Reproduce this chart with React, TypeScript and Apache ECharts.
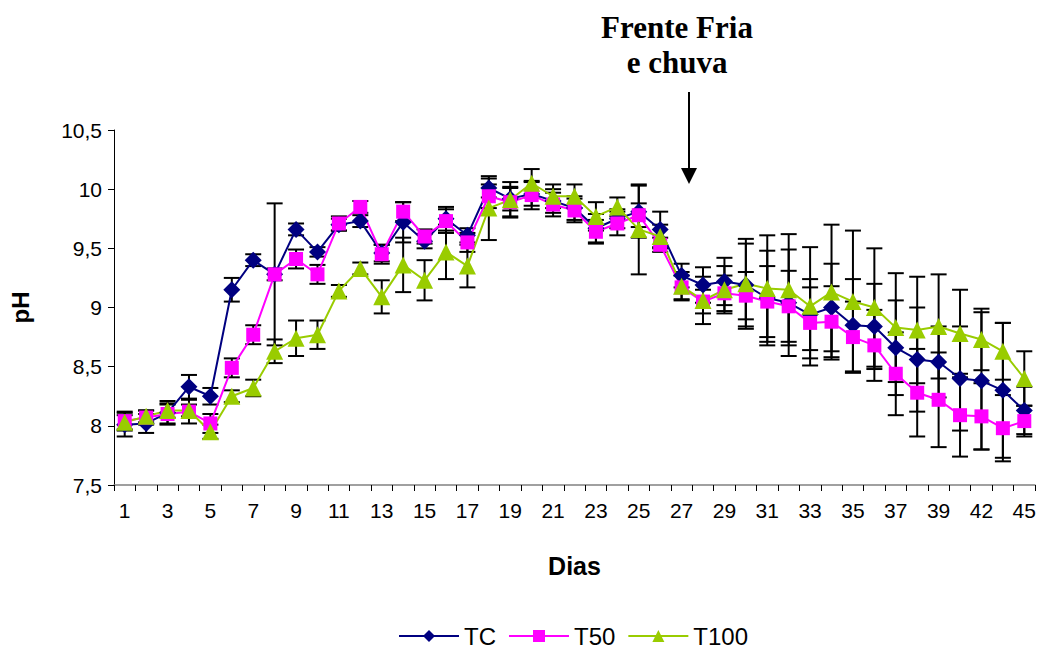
import React, { useEffect, useRef } from 'react';
import * as echarts from 'echarts';

const days = [
  '1','2','3','4','5','6','7','8','9','10','11','12','13','14','15','16','17','18','19','20',
  '21','22','23','24','25','26','27','28','29','30','31','32','33','34','35','36','37','38','39','40',
  '42','44','45'
];

const tc = [
  8.01, 8.02, 8.11, 8.33, 8.25, 9.15, 9.40, 9.28, 9.66, 9.47,
  9.70, 9.73, 9.46, 9.72, 9.56, 9.75, 9.61, 10.01, 9.92, 9.96,
  9.90, 9.84, 9.67, 9.75, 9.81, 9.66, 9.27, 9.19, 9.22, 9.19,
  9.08, 9.04, 8.94, 9.00, 8.85, 8.84, 8.66, 8.56, 8.54, 8.40,
  8.38, 8.30, 8.13
];
const t50 = [
  8.04, 8.07, 8.10, 8.12, 8.02, 8.49, 8.77, 9.28, 9.41, 9.28,
  9.71, 9.85, 9.45, 9.81, 9.60, 9.73, 9.55, 9.94, 9.89, 9.95,
  9.87, 9.82, 9.64, 9.71, 9.78, 9.53, 9.17, 9.05, 9.12, 9.10,
  9.05, 9.01, 8.87, 8.88, 8.75, 8.68, 8.44, 8.28, 8.22, 8.09,
  8.08, 7.98, 8.04
];
const t100 = [
  8.03, 8.08, 8.13, 8.13, 7.95, 8.25, 8.32, 8.63, 8.74, 8.77,
  9.14, 9.33, 9.09, 9.36, 9.23, 9.47, 9.35, 9.84, 9.91, 10.05,
  9.94, 9.94, 9.77, 9.85, 9.66, 9.60, 9.18, 9.06, 9.15, 9.20,
  9.16, 9.15, 9.01, 9.13, 9.05, 9.00, 8.83, 8.81, 8.84, 8.78,
  8.73, 8.63, 8.40
];

const tcErr = [
  0.10, 0.08, 0.10, 0.10, 0.07, 0.10, 0.05, 0.05, 0.05, 0.04,
  0.05, 0.05, 0.07, 0.17, 0.06, 0.10, 0.06, 0.08, 0.10, 0.10,
  0.10, 0.10, 0.12, 0.08, 0.22, 0.15, 0.10, 0.15, 0.20, 0.35,
  0.40, 0.45, 0.30, 0.37, 0.39, 0.36, 0.40, 0.44, 0.30, 0.44,
  0.58, 0.57, 0.20
];
const t50Err = [
  0.08, 0.06, 0.08, 0.10, 0.08, 0.08, 0.08, 0.60, 0.08, 0.08,
  0.06, 0.05, 0.08, 0.08, 0.06, 0.10, 0.08, 0.10, 0.12, 0.12,
  0.10, 0.10, 0.10, 0.10, 0.10, 0.06, 0.10, 0.10, 0.15, 0.20,
  0.30, 0.30, 0.30, 0.30, 0.30, 0.30, 0.35, 0.37, 0.40, 0.35,
  0.28, 0.28, 0.13
];
const t100Err = [
  0.06, 0.05, 0.06, 0.05, 0.06, 0.05, 0.07, 0.10, 0.15, 0.12,
  0.05, 0.05, 0.14, 0.23, 0.17, 0.23, 0.18, 0.27, 0.15, 0.12,
  0.10, 0.10, 0.12, 0.08, 0.38, 0.10, 0.12, 0.20, 0.20, 0.38,
  0.45, 0.47, 0.50, 0.57, 0.60, 0.50, 0.46, 0.45, 0.44, 0.37,
  0.26, 0.24, 0.23
];

const yTicks = ['7,5', '8', '8,5', '9', '9,5', '10', '10,5'];

const annotationLines = ['Frente Fria', 'e chuva'];

const errData = (vals: number[], errs: number[]) =>
  vals.map((v, i) => [i, v - errs[i], v + errs[i]]);

const errorRender = (params: any, api: any) => {
  const i = api.value(0);
  const lo = api.coord([i, api.value(1)]);
  const hi = api.coord([i, api.value(2)]);
  const hw = 8;
  const style = { stroke: '#000', lineWidth: 2 };
  return {
    type: 'group',
    children: [
      { type: 'line', shape: { x1: hi[0], y1: hi[1], x2: lo[0], y2: lo[1] }, style },
      { type: 'line', shape: { x1: hi[0] - hw, y1: hi[1], x2: hi[0] + hw, y2: hi[1] }, style },
      { type: 'line', shape: { x1: lo[0] - hw, y1: lo[1], x2: lo[0] + hw, y2: lo[1] }, style },
    ],
  };
};

export default function App() {
  const ref = useRef<HTMLDivElement>(null);
  useEffect(() => {
    if (!ref.current) return;
    const chart = echarts.init(ref.current, undefined, { renderer: 'svg' });
    const font = 'Liberation Sans, Arial, sans-serif';
    const lineSeries = (name: string, data: number[], color: string, symbol: string, size: number) => ({
      name,
      type: 'line',
      data,
      symbol,
      symbolSize: size,
      showAllSymbol: true,
      z: 3,
      lineStyle: { color, width: 2 },
      itemStyle: { color },
    });
    chart.setOption({
      animation: false,
      backgroundColor: '#fff',
      textStyle: { fontFamily: font },
      grid: { left: 113, right: 7, top: 130, bottom: 165, containLabel: false },
      legend: {
        data: ['TC', 'T50', 'T100'],
        left: 393,
        top: 619,
        itemWidth: 60,
        itemHeight: 15,
        itemGap: 12,
        textStyle: { fontSize: 24, color: '#000', fontFamily: font },
      },
      xAxis: {
        type: 'category',
        data: days,
        boundaryGap: true,
        name: 'Dias',
        nameLocation: 'middle',
        nameGap: 68,
        nameTextStyle: { fontSize: 25, fontWeight: 'bold', color: '#000', fontFamily: font },
        axisLine: { lineStyle: { color: '#808080', width: 1.5 } },
        axisTick: { show: true, interval: 0, length: 6, lineStyle: { color: '#000' } },
        axisLabel: { interval: 1, fontSize: 21, color: '#000', margin: 15, fontFamily: font },
        splitLine: { show: false },
      },
      yAxis: {
        type: 'value',
        min: 7.5,
        max: 10.5,
        interval: 0.5,
        name: 'pH',
        nameLocation: 'middle',
        nameGap: 82,
        nameRotate: 90,
        nameTextStyle: { fontSize: 24, fontWeight: 'bold', color: '#000', fontFamily: font },
        axisLine: { show: true, lineStyle: { color: '#000', width: 1 } },
        axisTick: { show: true, length: 6, lineStyle: { color: '#000' } },
        axisLabel: {
          fontSize: 21,
          color: '#000',
          margin: 12,
          fontFamily: font,
          formatter: (v: number) => yTicks[Math.round((v - 7.5) / 0.5)] ?? String(v),
        },
        splitLine: { show: false },
      },
      graphic: [
        {
          type: 'text',
          x: 677,
          y: 10,
          style: {
            text: annotationLines.join('\n'),
            fontFamily: 'Liberation Serif, Times New Roman, serif',
            fontWeight: 'bold',
            fontSize: 31,
            lineHeight: 35,
            fill: '#000',
            align: 'center',
            verticalAlign: 'top',
          },
        },
        {
          type: 'line',
          shape: { x1: 689, y1: 92, x2: 689, y2: 172 },
          style: { stroke: '#000', lineWidth: 2 },
        },
        {
          type: 'polygon',
          shape: { points: [[681, 168], [697, 168], [689, 184]] },
          style: { fill: '#000' },
        },
      ],
      series: [
        { type: 'custom', name: 'errTC', renderItem: errorRender, data: errData(tc, tcErr), z: 2, encode: { x: 0, y: [1, 2] } },
        { type: 'custom', name: 'errT50', renderItem: errorRender, data: errData(t50, t50Err), z: 2, encode: { x: 0, y: [1, 2] } },
        { type: 'custom', name: 'errT100', renderItem: errorRender, data: errData(t100, t100Err), z: 2, encode: { x: 0, y: [1, 2] } },
        lineSeries('TC', tc, '#000080', 'diamond', 17),
        lineSeries('T50', t50, '#FF00FF', 'rect', 14),
        lineSeries('T100', t100, '#99CC00', 'triangle', 17),
      ],
    });
    return () => chart.dispose();
  }, []);
  return (
    <div
      ref={ref}
      style={{ position: 'fixed', left: 0, top: 0, width: 1042, height: 650, background: '#fff' }}
    />
  );
}
